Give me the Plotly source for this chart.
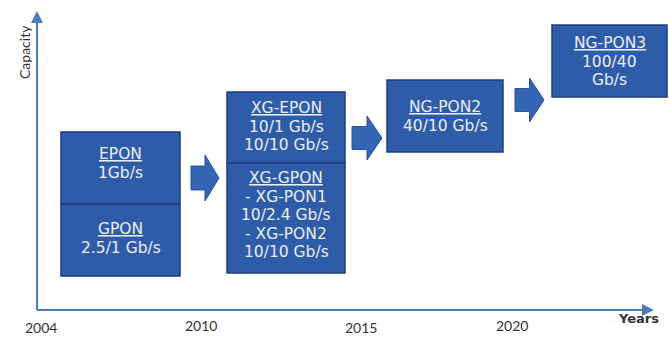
import plotly.graph_objects as go

# ---- data ----
generations = ["EPON", "GPON", "XG-EPON", "XG-GPON", "NG-PON2", "NG-PON3"]
rates = [
    ["1Gb/s"],
    ["2.5/1 Gb/s"],
    ["10/1 Gb/s", "10/10 Gb/s"],
    ["- XG-PON1", "10/2.4 Gb/s", "- XG-PON2", "10/10 Gb/s"],
    ["40/10 Gb/s"],
    ["100/40", "Gb/s"],
]
# box extents in diagram units (x: timeline position, y: capacity level, top-down)
box_x0 = [61, 61, 227, 227, 387, 552]
box_x1 = [180, 180, 345, 345, 503, 667]
box_y0 = [132, 204, 92, 163, 80, 25]
box_y1 = [204, 276, 163, 273, 152, 97]
text_top = [154, 229, 108, 178, 107, 43]

# block arrows between generations: left, right, centre y, half height
arrow_x0 = [191, 352, 515]
arrow_x1 = [219, 382, 544]
arrow_cy = [178, 138, 100]
arrow_h = [23, 22, 22]

year_labels = ["2004", "2010", "2015", "2020"]
year_pos = [41, 201, 361, 512]
year_y = [327, 325, 327, 325]

FILL = "#2F5CA9"
EDGE = "#1E3E7C"
AXIS = "#4A7EBB"
TXT = "#ECEFF6"

fig = go.Figure()
fig.add_trace(go.Scatter(x=[0, 669], y=[0, 337], mode="markers",
                         marker=dict(opacity=0), hoverinfo="skip", showlegend=False))

shapes = []
annotations = []

# boxes
for i, g in enumerate(generations):
    shapes.append(dict(type="rect", xref="x", yref="y",
                       x0=box_x0[i], x1=box_x1[i], y0=box_y0[i], y1=box_y1[i],
                       fillcolor=FILL, line=dict(color=EDGE, width=1.5), layer="above"))
    lines = ["<u>" + g + "</u>"] + rates[i]
    cx = (box_x0[i] + box_x1[i]) / 2
    for k, t in enumerate(lines):
        annotations.append(dict(x=cx, y=text_top[i] + k * 18.6, xref="x", yref="y",
                                text=t, showarrow=False,
                                font=dict(family="DejaVu Sans", size=15.5, color=TXT),
                                xanchor="center", yanchor="middle"))

# block arrows
for i in range(len(arrow_x0)):
    x0, x1, cy, h = arrow_x0[i], arrow_x1[i], arrow_cy[i], arrow_h[i]
    xm = x0 + (x1 - x0) * 0.5
    th = h * 0.52
    path = (f"M {x0},{cy - th} L {xm},{cy - th} L {xm},{cy - h} L {x1},{cy} "
            f"L {xm},{cy + h} L {xm},{cy + th} L {x0},{cy + th} Z")
    shapes.append(dict(type="path", xref="x", yref="y", path=path,
                       fillcolor="#3565B5", line=dict(color="#2A5096", width=1)))

# axes
shapes.append(dict(type="line", xref="x", yref="y", x0=37, x1=37, y0=310, y1=16,
                   line=dict(color=AXIS, width=2)))
shapes.append(dict(type="line", xref="x", yref="y", x0=37, x1=648, y0=310, y1=310,
                   line=dict(color=AXIS, width=2)))
annotations.append(dict(x=37, y=11, ax=37, ay=40, xref="x", yref="y", axref="x", ayref="y",
                        text="", showarrow=True, arrowhead=2, arrowsize=1.2,
                        arrowwidth=2, arrowcolor=AXIS))
annotations.append(dict(x=654, y=310, ax=620, ay=310, xref="x", yref="y", axref="x", ayref="y",
                        text="", showarrow=True, arrowhead=2, arrowsize=1.2,
                        arrowwidth=2, arrowcolor=AXIS))

# axis titles
annotations.append(dict(x=24, y=52, xref="x", yref="y", text="Capacity", textangle=-90,
                        showarrow=False, font=dict(family="Lato", size=14, color="#333333")))
annotations.append(dict(x=638, y=318, xref="x", yref="y", text="<b>Years</b>",
                        showarrow=False, font=dict(family="DejaVu Sans", size=13, color="#333333")))

for lbl, xp, yp in zip(year_labels, year_pos, year_y):
    annotations.append(dict(x=xp, y=yp, xref="x", yref="y", text=lbl, showarrow=False,
                            font=dict(family="Lato", size=14, color="#333333")))

fig.update_layout(
    width=669, height=337, margin=dict(l=0, r=0, t=0, b=0),
    paper_bgcolor="white", plot_bgcolor="white",
    xaxis=dict(range=[0, 669], visible=False, fixedrange=True),
    yaxis=dict(range=[337, 0], visible=False, fixedrange=True),
    shapes=shapes, annotations=annotations, showlegend=False,
)

fig.write_html("out.html")
